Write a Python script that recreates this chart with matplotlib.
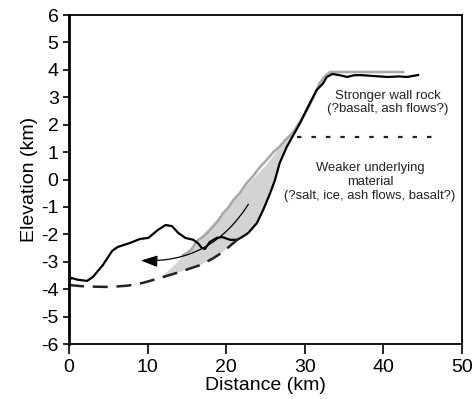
import matplotlib.pyplot as plt
import numpy as np

plt.rcParams['font.family'] = ['Liberation Sans', 'DejaVu Sans']
plt.rcParams['axes.unicode_minus'] = False

# measured profile (black)
prof_x = [0.0, 0.3, 1.0, 2.3, 3.05, 4.3, 5.5, 6.2, 7.8, 9.0, 10.1, 11.3, 12.3, 13.1, 13.9,
          14.8, 15.8, 16.4, 16.9, 17.3, 17.9, 18.8, 19.5, 20.5, 21.4, 22.0, 22.8, 23.9,
          24.7, 25.6, 26.2, 26.8, 27.7, 28.5, 29.4, 30.4, 31.5, 32.3, 32.8, 33.5, 34.5,
          35.4, 36.2, 37.0, 38.5, 40.5, 42.0, 43.0, 44.4]
prof_y = [-3.7, -3.59, -3.65, -3.70, -3.55, -3.12, -2.6, -2.46, -2.31, -2.17, -2.13, -1.84,
          -1.66, -1.70, -1.95, -2.13, -2.2, -2.32, -2.5, -2.53, -2.28, -2.13, -2.1, -2.2,
          -2.2, -2.1, -1.95, -1.59, -1.11, -0.49, -0.02, 0.6, 1.19, 1.6, 2.06, 2.65, 3.26,
          3.5, 3.74, 3.85, 3.80, 3.74, 3.80, 3.81, 3.78, 3.74, 3.76, 3.74, 3.81]

# reconstructed pre-collapse surface (gray)
gray_x = [14.5, 15.0, 15.6, 16.2, 17.0, 17.6, 18.3, 19.0, 19.6, 20.2, 20.9, 21.7, 22.6,
          23.4, 24.3, 25.1, 26.0, 26.8, 27.5, 28.5, 29.4, 30.3, 31.1, 31.9, 32.5, 33.2,
          35.0, 38.0, 40.0, 42.5]
gray_y = [-2.75, -2.68, -2.55, -2.25, -2.1, -1.95, -1.73, -1.5, -1.22, -1.05, -0.75, -0.5,
          -0.13, 0.12, 0.46, 0.7, 1.0, 1.2, 1.44, 1.7, 2.1, 2.54, 3.0, 3.52, 3.75, 3.92,
          3.92, 3.92, 3.92, 3.92]

# inferred failure surface (dashed)
dash_x = [0.0, 2.0, 5.2, 7.5, 9.4, 11.6, 14.0, 16.7, 18.3, 19.6, 20.9, 21.6]
dash_y = [-3.85, -3.9, -3.92, -3.87, -3.77, -3.59, -3.38, -3.12, -2.88, -2.64, -2.32, -2.15]

# shaded slide mass outline
fill_x = [11.6, 14.0, 16.7, 19.6, 21.6, 22.8, 23.9, 24.7, 25.6, 26.2, 26.8, 27.7, 28.5,
          29.4, 30.4, 31.5, 32.8, 33.2, 31.0, 28.0, 25.0, 22.0, 19.0, 16.0, 13.5]
fill_y = [-3.59, -3.38, -3.12, -2.64, -2.15, -1.95, -1.59, -1.11, -0.49, -0.02, 0.6, 1.19,
          1.6, 2.06, 2.65, 3.26, 3.74, 3.9, 2.95, 1.6, 0.5, -0.4, -1.4, -2.35, -3.1]

fig = plt.figure(figsize=(4.77, 3.99), dpi=100)
ax = fig.add_axes([0.1447, 0.1378, 0.8239, 0.8246])

ax.fill(fill_x, fill_y, color='#d3d3d3', lw=0)
ax.plot(gray_x, gray_y, color='#a8a8a8', lw=1.8)
ax.plot(prof_x, prof_y, color='black', lw=1.6)
ax.plot(dash_x, dash_y, color='#222222', lw=1.8, ls=(0, (6, 3.5)))
ax.plot([29, 46.3], [1.55, 1.55], color='#222222', lw=1.6, ls=(0, (2, 4.5)))

ax.annotate('', xy=(8.8, -2.95), xytext=(23.0, -0.82),
            arrowprops=dict(arrowstyle='-|>,head_length=1.0,head_width=0.35', color='black', lw=0.9,
                            connectionstyle='arc3,rad=-0.3'))

ax.text(40.6, 2.8, 'Stronger wall rock\n(?basalt, ash flows?)', ha='center', va='center',
        fontsize=9.5, linespacing=1.15, color='#222222')
ax.text(38.3, -0.1, 'Weaker underlying\nmaterial\n(?salt, ice, ash flows, basalt?)',
        ha='center', va='center', fontsize=9.4, linespacing=1.2, color='#222222')

ax.set_xlim(0, 50)
ax.set_ylim(-6, 6)
ax.set_xticks(range(0, 51, 10))
ax.set_yticks(range(-6, 7))
ax.tick_params(axis='both', labelsize=14, direction='out', width=1.2)
ax.tick_params(axis='x', length=7)
ax.tick_params(axis='y', length=4)
ax.set_xlabel('Distance (km)', fontsize=14, labelpad=1)
ax.set_ylabel('Elevation (km)', fontsize=14, labelpad=2)
for s in ax.spines.values():
    s.set_linewidth(1.3)
ax.spines['left'].set_linewidth(2)

fig.savefig('out.png', dpi=100)
